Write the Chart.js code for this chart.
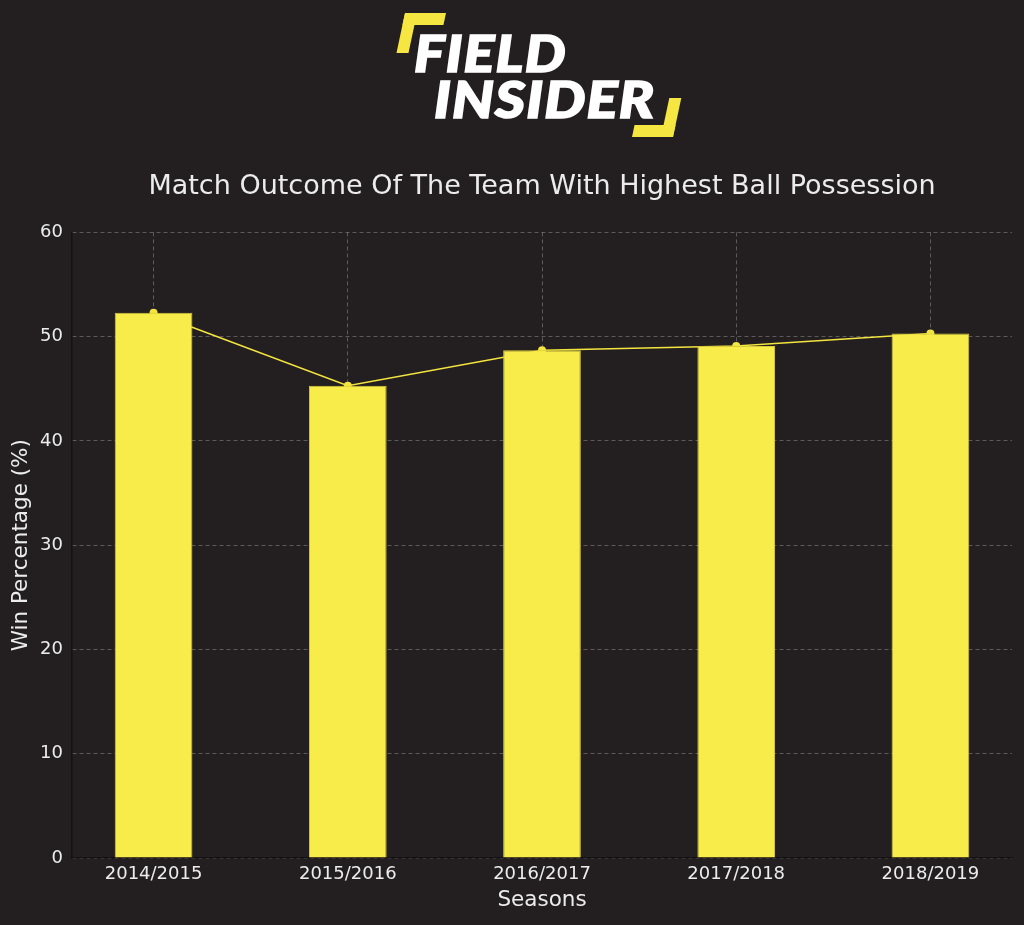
<!DOCTYPE html>
<html>
<head>
<meta charset="utf-8">
<script src="https://cdn.jsdelivr.net/npm/chart.js@4/dist/chart.umd.min.js"></script>
<style>
  html, body { margin: 0; padding: 0; background: #231f20; }
  #wrap { position: relative; width: 1024px; height: 925px; }
  #chart { position: absolute; left: 0; top: 0; }
  .logo-word {
    position: absolute; color: #ffffff; font-family: Lato, Roboto, sans-serif;
    font-style: italic; font-weight: 900; line-height: 1; white-space: nowrap;
    -webkit-text-stroke: 1.6px #ffffff; transform-origin: 0 0;
  }
  .bracket { position: absolute; box-sizing: border-box; border: 0 solid #f5e642; }
</style>
</head>
<body>
<div id="wrap">
  <canvas id="chart" width="1024" height="925"></canvas>
  <div class="bracket" style="left:405px;top:13px;width:41px;height:40px;border-top-width:12px;border-left-width:12px;transform:skewX(-12deg);transform-origin:0 0;"></div>
  <div class="bracket" style="left:632px;top:98px;width:41px;height:39px;border-bottom-width:12px;border-right-width:12px;transform:skewX(-12deg);transform-origin:0 100%;"></div>
  <div class="logo-word" style="left:414px;top:27px;font-size:51px;letter-spacing:1px;transform:scaleX(1.13);">FIELD</div>
  <div class="logo-word" style="left:434px;top:73px;font-size:51px;letter-spacing:1px;transform:scaleX(1.14);">INSIDER</div>
</div>
<script>
// chart data
const seasons = ['2014/2015', '2015/2016', '2016/2017', '2017/2018', '2018/2019'];
const winPct = [52.3, 45.3, 48.7, 49.1, 50.3];
const yTicks = [0, 10, 20, 30, 40, 50, 60];

const points = winPct.map((v, i) => ({ x: i, y: v }));

const textColor = '#ececec';
const gridColor = 'rgba(255,255,255,0.26)';
const spineColor = '#141112';

let ctx = document.getElementById('chart').getContext('2d');
let chart = new Chart(ctx, {
    data: {
        datasets: [{
            type: 'bar',
            data: points,
            backgroundColor: '#f8ec4a',
            borderColor: '#d6ca3a',
            borderWidth: 1,
            barPercentage: 0.4,
            categoryPercentage: 1,
            order: 1
        }, {
            type: 'line',
            data: points,
            borderColor: '#f3e43f',
            borderWidth: 1.6,
            pointRadius: 4,
            pointBackgroundColor: '#f3e43f',
            pointBorderWidth: 0,
            order: 2
        }]
    },
    options: {
        responsive: false,
        animation: false,
        layout: { padding: { top: 160, left: 0, right: 12, bottom: 0 } },
        plugins: {
            legend: { display: false },
            tooltip: { enabled: false },
            title: {
                display: true,
                fullSize: false,
                text: 'Match Outcome Of The Team With Highest Ball Possession',
                color: textColor,
                font: { family: 'DejaVu Sans', size: 27, weight: 'normal' },
                padding: { top: 11, bottom: 29 }
            }
        },
        scales: {
            x: {
                type: 'linear',
                min: -0.42,
                max: 4.42,
                offset: false,
                z: 1,
                afterBuildTicks: (scale) => { scale.ticks = seasons.map((s, i) => ({ value: i })); },
                afterFit: (scale) => { scale.height = 67; },
                ticks: {
                    color: textColor,
                    font: { family: 'DejaVu Sans', size: 18 },
                    padding: 6,
                    maxRotation: 0,
                    autoSkip: false,
                    callback: (value, index) => seasons[index]
                },
                grid: { color: gridColor, lineWidth: 1, drawTicks: false, offset: false },
                border: { display: true, color: spineColor, width: 1.5, dash: [4, 3] },
                title: {
                    display: true,
                    text: 'Seasons',
                    color: textColor,
                    font: { family: 'DejaVu Sans', size: 21.5 },
                    padding: { top: 0, bottom: 12 }
                }
            },
            y: {
                min: 0,
                max: 60,
                z: 1,
                afterBuildTicks: (scale) => { scale.ticks = yTicks.map(v => ({ value: v })); },
                afterFit: (scale) => { scale.width = 72; },
                ticks: {
                    color: textColor,
                    font: { family: 'DejaVu Sans', size: 18 },
                    padding: 9
                },
                grid: { color: gridColor, lineWidth: 1, drawTicks: false },
                border: { display: true, color: spineColor, width: 1.5, dash: [4, 3] },
                title: {
                    display: true,
                    text: 'Win Percentage (%)',
                    color: textColor,
                    font: { family: 'DejaVu Sans', size: 21.5 },
                    padding: { top: 9, bottom: 0 }
                }
            }
        }
    }
});
</script>
</body>
</html>
